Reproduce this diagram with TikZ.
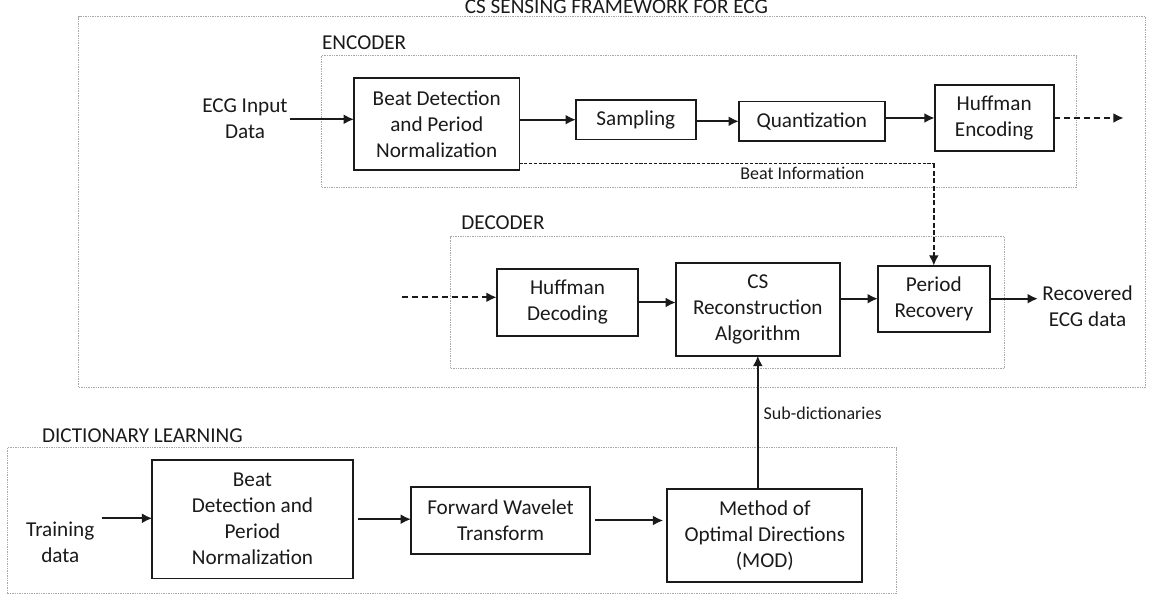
\documentclass[tikz,border=0pt]{standalone}
\usepackage{fontspec}
\setmainfont{Carlito}
\usetikzlibrary{arrows.meta,calc}
\newcommand\dgmain{\fontsize{10.6}{13}\selectfont}
\newcommand\dgsmall{\fontsize{9}{11}\selectfont}
\definecolor{ink}{HTML}{1A1A1A}
\definecolor{framegray}{HTML}{A8A8A8}
\begin{document}
\begin{tikzpicture}[x=0.5pt,y=-0.5pt,
  every node/.style={text=ink},
  box/.style={draw=ink, line width=0.85pt, inner sep=0pt, outer sep=0pt, align=center, font=\dgmain},
  frame/.style={draw=framegray, line width=0.7pt, dash pattern=on 0.7pt off 0.5pt, inner sep=0pt, outer sep=0pt},
  lbl/.style={font=\dgmain, inner sep=0pt},
  multi/.style={font=\dgmain, inner sep=0pt, align=center},
  small/.style={font=\dgsmall, inner sep=0pt},
  flow/.style={draw=ink, line width=1pt, -{Latex[length=5.2pt,width=5pt]}},
  link/.style={flow, dash pattern=on 3pt off 2pt},
  beat/.style={draw=ink, line width=0.7pt, dash pattern=on 1.6pt off 0.8pt},
]
\useasboundingbox (0,0) rectangle (1152,598);

% group frames
\node[frame, minimum width=533.3pt, minimum height=185.3pt] (csf) at (612,202) {};
\node[frame, minimum width=377.3pt, minimum height=65.8pt] (encf) at (699,121.5) {};
\node[frame, minimum width=277pt, minimum height=65.8pt] (decf) at (727.7,302.5) {};
\node[frame, minimum width=444.7pt, minimum height=72.8pt] (dicf) at (452,520.5) {};

% group titles
\node[lbl, anchor=base] (title) at (616.4,14) {CS SENSING FRAMEWORK FOR ECG};
\node[lbl, anchor=base west] (enclbl) at (321.7,49.3) {ENCODER};
\node[lbl, anchor=base west] (declbl) at (461,229.3) {DECODER};
\node[lbl, anchor=base west] (diclbl) at (41.7,442.7) {DICTIONARY LEARNING};

% encoder
\node[box, minimum width=82.7pt, minimum height=45.9pt] (bd1) at (436.7,124.2) {Beat Detection\\and Period\\Normalization};
\node[box, minimum width=59.9pt, minimum height=19.7pt] (samp) at (635.8,119.7) {Sampling};
\node[box, minimum width=72.9pt, minimum height=19.7pt] (quant) at (811.8,121.3) {Quantization};
\node[box, minimum width=59.5pt, minimum height=33pt] (henc) at (994.2,118) {Huffman\\Encoding};

% decoder
\node[box, minimum width=70.8pt, minimum height=33.2pt] (hdec) at (567.5,302.5) {Huffman\\Decoding};
\node[box, minimum width=81.9pt, minimum height=46.2pt] (csr) at (757.8,309.5) {CS\\Reconstruction\\Algorithm};
\node[box, minimum width=55.9pt, minimum height=33pt] (prec) at (933.8,298.7) {Period\\Recovery};

% dictionary learning
\node[box, minimum width=100.2pt, minimum height=59.2pt] (bd2) at (252.5,519.2) {Beat\\Detection and\\Period\\Normalization};
\node[box, minimum width=89.5pt, minimum height=33.5pt] (fwt) at (500.5,520.5) {Forward Wavelet\\Transform};
\node[box, minimum width=97.5pt, minimum height=46.5pt] (mod) at (764.8,535.8) {Method of\\Optimal Directions\\(MOD)};

% inputs and outputs
\node[multi] (ecgin) at (245,118.5) {ECG Input\\Data};
\node[multi] (recout) at (1087.5,306.6) {Recovered\\ECG data};
\node[multi] (train) at (60.3,542.2) {Training\\data};

\coordinate (ecgtail) at (290,119.3);
\coordinate (trtail) at (101.7,518.3);
\coordinate (encout) at (1123.7,118);
\coordinate (decin) at (401.7,297.3);

% encoder flow
\draw[flow] (ecgtail) -- (ecgtail -| bd1.west);
\draw[flow] (bd1.east |- samp) -- (samp.west);
\draw[flow] (samp.east |- quant) -- (quant.west);
\draw[flow] (quant.east |- henc) -- (henc.west);
\draw[link] (henc.east) -- (encout);

% decoder flow
\draw[link] (decin) -- (decin -| hdec.west);
\draw[flow] (hdec.east) -- (hdec.east -| csr.west);
\draw[flow] (csr.east |- prec) -- (prec.west);
\draw[flow, shorten >=2pt] (prec.east) -- (prec.east -| recout.west);

% beat information side channel
\coordinate (bistart) at ($(bd1.south east)+(0,-6.7)$);
\coordinate (bicorner) at (bistart -| prec.north);
\draw[beat] (bistart) -- (bicorner);
\draw[flow, dash pattern=on 2.5pt off 1.2pt] (bicorner) -- (prec.north);
\node[small, anchor=base west] (beatlbl) at (740,180) {Beat Information};

% dictionary learning flow
\draw[flow] (trtail) -- (trtail -| bd2.west);
\draw[flow, shorten <=2.8pt] (bd2.east) -- (bd2.east -| fwt.west);
\draw[flow, shorten <=2.5pt, shorten >=2pt] (fwt.east) -- (fwt.east -| mod.west);
\draw[flow] (csr.south |- mod.north) -- (csr.south);
\node[small, anchor=base west] (sublbl) at (763.3,420) {Sub-dictionaries};
\end{tikzpicture}
\end{document}
